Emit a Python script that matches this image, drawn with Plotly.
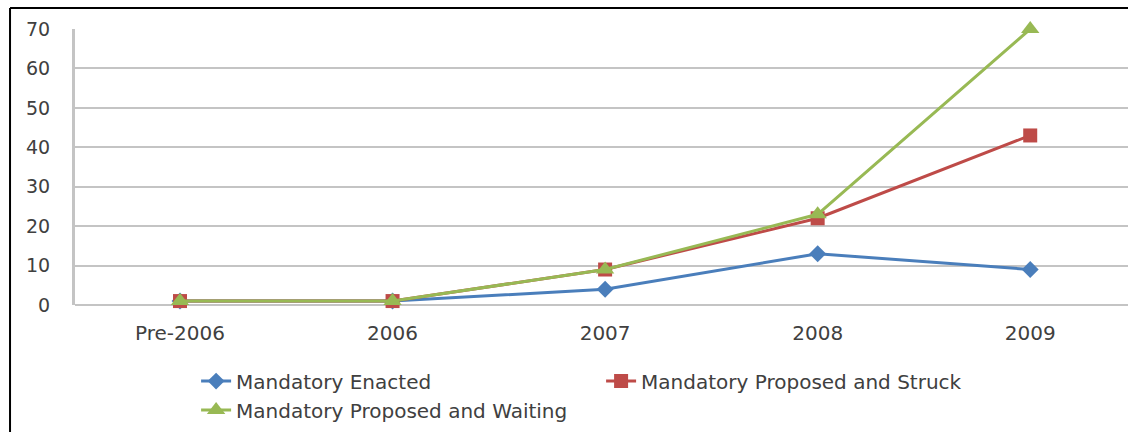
import plotly.graph_objects as go

# Chart data
categories = ["Pre-2006", "2006", "2007", "2008", "2009"]
enacted = [1, 1, 4, 13, 9]
proposed_struck = [1, 1, 9, 22, 43]
proposed_waiting = [1, 1, 9, 23, 70]
y_ticks = [0, 10, 20, 30, 40, 50, 60, 70]

BLUE = "#4a7ebb"
RED = "#be4b48"
GREEN = "#98b954"
TEXT = "#404040"
GRID = "#c4c4c4"
FONT = "DejaVu Sans"

fig = go.Figure()
fig.add_trace(go.Scatter(
    x=categories, y=enacted, name="Mandatory Enacted",
    mode="lines+markers", cliponaxis=False,
    line=dict(color=BLUE, width=3),
    marker=dict(symbol="diamond", size=13, color=BLUE),
))
fig.add_trace(go.Scatter(
    x=categories, y=proposed_struck, name="Mandatory Proposed and Struck",
    mode="lines+markers", cliponaxis=False,
    line=dict(color=RED, width=3),
    marker=dict(symbol="square", size=14, color=RED),
))
fig.add_trace(go.Scatter(
    x=categories, y=proposed_waiting, name="Mandatory Proposed and Waiting",
    mode="lines+markers", cliponaxis=False,
    line=dict(color=GREEN, width=3),
    marker=dict(symbol="triangle-up", size=16, color=GREEN),
))

# Frame lines along the top and left edges
fig.add_shape(type="line", xref="paper", yref="paper",
              x0=-0.0617, x1=1.0, y0=1.076, y1=1.076,
              line=dict(color="#000000", width=2))
fig.add_shape(type="line", xref="paper", yref="paper",
              x0=-0.0617, x1=-0.0617, y0=1.076, y1=-0.5,
              line=dict(color="#000000", width=2))

fig.update_layout(
    width=1128, height=432,
    margin=dict(l=75, r=0, t=29, b=127),
    paper_bgcolor="white", plot_bgcolor="white",
    font=dict(family=FONT, size=19, color=TEXT),
    showlegend=True,
    legend=dict(
        orientation="h", x=0.115, y=-0.205, xanchor="left", yanchor="top",
        entrywidth=360, entrywidthmode="pixels",
        font=dict(family=FONT, size=20, color=TEXT),
        bgcolor="rgba(0,0,0,0)", itemclick=False,
    ),
    xaxis=dict(
        type="category", range=[-0.494, 4.46],
        showgrid=False, zeroline=False,
        showline=False, ticks="",
        ticklabelstandoff=14,
        tickfont=dict(family=FONT, size=20, color=TEXT),
    ),
    yaxis=dict(
        range=[0, 70], tickvals=y_ticks,
        showgrid=True, gridcolor=GRID, gridwidth=2,
        zeroline=True, zerolinecolor=GRID, zerolinewidth=2,
        showline=True, linecolor=GRID, linewidth=3,
        ticks="", ticklabelstandoff=18,
        tickfont=dict(family=FONT, size=19, color=TEXT),
    ),
)

fig.write_html("out.html")
